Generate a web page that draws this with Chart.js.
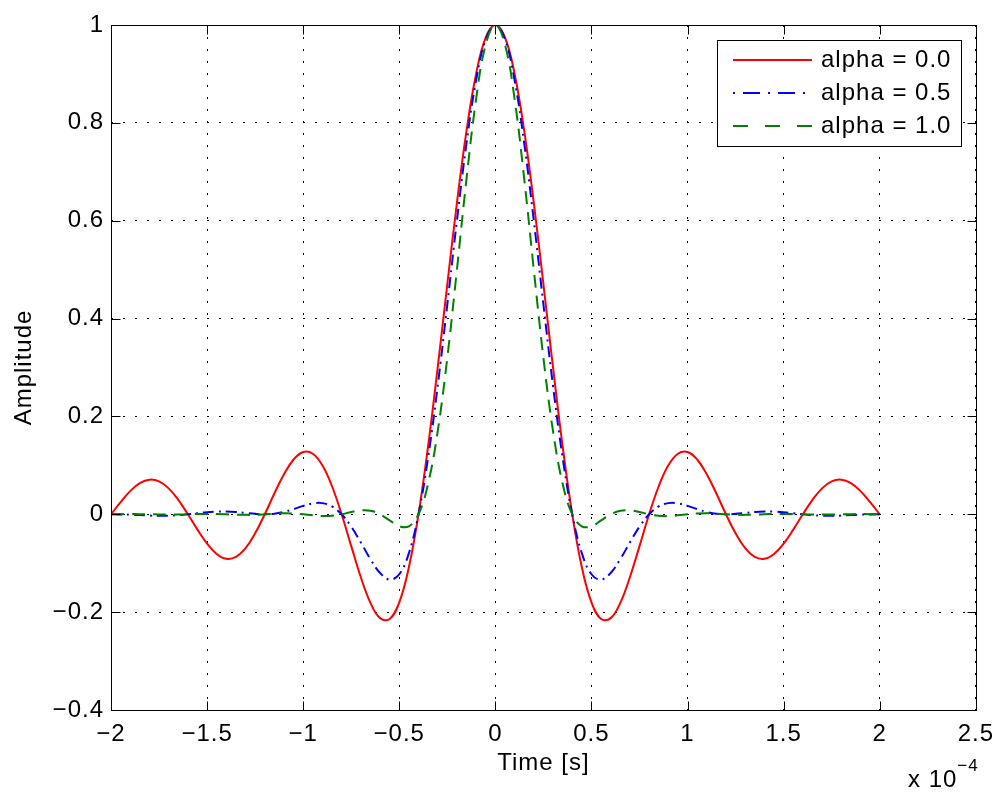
<!DOCTYPE html>
<html>
<head>
<meta charset="utf-8">
<title>Raised cosine pulse</title>
<script src="https://cdn.jsdelivr.net/npm/chart.js@4.4.1/dist/chart.umd.min.js"></script>
<style>
  html, body { margin: 0; padding: 0; background: #fff; }
  #wrap { width: 1004px; height: 794px; }
</style>
</head>
<body>
<div id="wrap"><canvas id="pulseChart" width="1004" height="794"></canvas></div>
<script>
//Время, в единицах 1e-4 s
const time = [
  -2, -1.95, -1.9, -1.85, -1.8, -1.75, -1.7, -1.65, -1.6, -1.55,
  -1.5, -1.45, -1.4, -1.35, -1.3, -1.25, -1.2, -1.15, -1.1, -1.05,
  -1, -0.95, -0.9, -0.85, -0.8, -0.75, -0.7, -0.65, -0.6, -0.55,
  -0.5, -0.45, -0.4, -0.35, -0.3, -0.25, -0.2, -0.15, -0.1, -0.05,
  0,
  0.05, 0.1, 0.15, 0.2, 0.25, 0.3, 0.35, 0.4, 0.45, 0.5,
  0.55, 0.6, 0.65, 0.7, 0.75, 0.8, 0.85, 0.9, 0.95, 1,
  1.05, 1.1, 1.15, 1.2, 1.25, 1.3, 1.35, 1.4, 1.45, 1.5,
  1.55, 1.6, 1.65, 1.7, 1.75, 1.8, 1.85, 1.9, 1.95, 2
];

const alpha00 = [
  0, 0.0250, 0.0474, 0.0636, 0.0707, 0.0672, 0.0530, 0.0295, 0, -0.0314,
  -0.0600, -0.0811, -0.0909, -0.0871, -0.0693, -0.0390, 0, 0.0424, 0.0818, 0.1120,
  0.1273, 0.1238, 0.1000, 0.0573, 0, -0.0650, -0.1286, -0.1810, -0.2122, -0.2139,
  -0.1801, -0.1083, 0, 0.1392, 0.3001, 0.4705, 0.6366, 0.7842, 0.9003, 0.9745,
  1,
  0.9745, 0.9003, 0.7842, 0.6366, 0.4705, 0.3001, 0.1392, 0, -0.1083, -0.1801,
  -0.2139, -0.2122, -0.1810, -0.1286, -0.0650, 0, 0.0573, 0.1000, 0.1238, 0.1273,
  0.1120, 0.0818, 0.0424, 0, -0.0390, -0.0693, -0.0871, -0.0909, -0.0811, -0.0600,
  -0.0314, 0, 0.0295, 0.0530, 0.0672, 0.0707, 0.0636, 0.0474, 0.0250, 0
];

const alpha05 = [
  0, -0.0002, -0.0008, -0.0017, -0.0026, -0.0031, -0.0029, -0.0018, 0, 0.0022,
  0.0043, 0.0056, 0.0057, 0.0047, 0.0028, 0.0009, 0, 0.0011, 0.0048, 0.0106,
  0.0172, 0.0222, 0.0228, 0.0160, 0, -0.0253, -0.0576, -0.0917, -0.1200, -0.1334,
  -0.1225, -0.0795, 0, 0.1159, 0.2625, 0.4290, 0.6002, 0.7588, 0.8872, 0.9709,
  1,
  0.9709, 0.8872, 0.7588, 0.6002, 0.4290, 0.2625, 0.1159, 0, -0.0795, -0.1225,
  -0.1334, -0.1200, -0.0917, -0.0576, -0.0253, 0, 0.0160, 0.0228, 0.0222, 0.0172,
  0.0106, 0.0048, 0.0011, 0, 0.0009, 0.0028, 0.0047, 0.0057, 0.0056, 0.0043,
  0.0022, 0, -0.0018, -0.0029, -0.0031, -0.0026, -0.0017, -0.0008, -0.0002, 0
];

const alpha10 = [
  0, 0.0003, 0.0004, 0.0003, 0, -0.0003, -0.0005, -0.0004, 0, 0.0005,
  0.0008, 0.0006, 0, -0.0008, -0.0012, -0.0010, 0, 0.0012, 0.0020, 0.0016,
  0, -0.0022, -0.0037, -0.0031, 0, 0.0046, 0.0081, 0.0072, 0, -0.0125,
  -0.0243, -0.0246, 0, 0.0624, 0.1698, 0.3201, 0.5000, 0.6860, 0.8488, 0.9603,
  1,
  0.9603, 0.8488, 0.6860, 0.5000, 0.3201, 0.1698, 0.0624, 0, -0.0246, -0.0243,
  -0.0125, 0, 0.0072, 0.0081, 0.0046, 0, -0.0031, -0.0037, -0.0022, 0,
  0.0016, 0.0020, 0.0012, 0, -0.0010, -0.0012, -0.0008, 0, 0.0006, 0.0008,
  0.0005, 0, -0.0004, -0.0005, -0.0003, 0, 0.0003, 0.0004, 0.0003, 0
];

const seriesLabels = ['alpha = 0.0', 'alpha = 0.5', 'alpha = 1.0'];
const xTicks = [-2, -1.5, -1, -0.5, 0, 0.5, 1, 1.5, 2, 2.5];
const yTicks = [-0.4, -0.2, 0, 0.2, 0.4, 0.6, 0.8, 1];
const xExponent = '\u22124';

const FONT_FAMILY = '"Liberation Sans", Arial, Helvetica, sans-serif';
const FONT_SIZE = 24;
const SPACING = '1px';

//Число с настоящим знаком минус
function fmt(v) {
  return String(Math.round(v * 10) / 10).replace('-', '\u2212');
}

function toPoints(values) {
  return time.map((t, i) => ({x: t, y: values[i]}));
}

//Межбуквенный интервал, как у шрифта MATLAB
const spacingPlugin = {
  id: 'spacing',
  beforeUpdate(chart) { chart.ctx.letterSpacing = SPACING; },
  beforeDraw(chart) { chart.ctx.letterSpacing = SPACING; }
};

//Рамка осей, внутренние засечки, легенда и множитель оси X
const framePlugin = {
  id: 'frame',
  afterDraw(chart) {
    const {ctx, chartArea} = chart;
    const x = chart.scales.x;
    const y = chart.scales.y;
    const l = Math.round(chartArea.left) + 0.5;
    const r = Math.round(chartArea.right) + 0.5;
    const t = Math.round(chartArea.top) + 0.5;
    const b = Math.round(chartArea.bottom) + 0.5;
    const tick = 9;

    ctx.save();
    ctx.letterSpacing = SPACING;
    ctx.strokeStyle = '#000';
    ctx.lineWidth = 1;
    ctx.setLineDash([]);
    ctx.beginPath();
    xTicks.forEach(v => {
      const px = Math.round(x.getPixelForValue(v)) + 0.5;
      ctx.moveTo(px, b); ctx.lineTo(px, b - tick);
      ctx.moveTo(px, t); ctx.lineTo(px, t + tick);
    });
    yTicks.forEach(v => {
      const py = Math.round(y.getPixelForValue(v)) + 0.5;
      ctx.moveTo(l, py); ctx.lineTo(l + tick, py);
      ctx.moveTo(r, py); ctx.lineTo(r - tick, py);
    });
    ctx.stroke();
    ctx.strokeRect(l, t, r - l, b - t);

    //Легенда
    const boxL = 717.5, boxT = 40.5, boxW = 244, boxH = 106;
    ctx.fillStyle = '#fff';
    ctx.fillRect(boxL, boxT, boxW, boxH);
    ctx.strokeRect(boxL, boxT, boxW, boxH);
    const rows = [60, 93, 126];
    chart.data.datasets.forEach((ds, i) => {
      ctx.save();
      ctx.strokeStyle = ds.borderColor;
      ctx.lineWidth = ds.borderWidth;
      ctx.setLineDash(ds.legendDash);
      ctx.beginPath();
      ctx.moveTo(733, rows[i]);
      ctx.lineTo(812, rows[i]);
      ctx.stroke();
      ctx.restore();
      ctx.fillStyle = '#000';
      ctx.font = FONT_SIZE + 'px ' + FONT_FAMILY;
      ctx.textBaseline = 'middle';
      ctx.textAlign = 'left';
      ctx.fillText(ds.label, 821, rows[i]);
    });

    //Множитель x 10^-4
    ctx.fillStyle = '#000';
    ctx.textAlign = 'left';
    ctx.textBaseline = 'alphabetic';
    ctx.font = FONT_SIZE + 'px ' + FONT_FAMILY;
    const base = 'x 10';
    ctx.fillText(base, 908, 787);
    const w = ctx.measureText(base).width;
    ctx.font = '17px ' + FONT_FAMILY;
    ctx.fillText(xExponent, 908 + w, 771);
    ctx.restore();
  }
};

const tickFont = {family: FONT_FAMILY, size: FONT_SIZE};

new Chart(document.getElementById('pulseChart'), {
  type: 'line',
  data: {
    datasets: [
      {
        label: seriesLabels[0],
        data: toPoints(alpha00),
        borderColor: '#ff0000',
        borderWidth: 2,
        borderDash: [],
        legendDash: [],
        order: 3
      },
      {
        label: seriesLabels[1],
        data: toPoints(alpha05),
        borderColor: '#0000ff',
        borderWidth: 2,
        borderDash: [11, 5, 2, 5],
        legendDash: [2, 8, 17, 8],
        order: 2
      },
      {
        label: seriesLabels[2],
        data: toPoints(alpha10),
        borderColor: '#008000',
        borderWidth: 2,
        borderDash: [13, 8],
        legendDash: [15, 17],
        order: 1
      }
    ]
  },
  options: {
    responsive: false,
    animation: false,
    devicePixelRatio: 1,
    layout: {
      padding: {top: 25, right: 25, left: 0, bottom: 0}
    },
    elements: {
      point: {radius: 0},
      line: {tension: 0.4, fill: false, borderCapStyle: 'butt', borderJoinStyle: 'round'}
    },
    plugins: {
      legend: {display: false},
      tooltip: {enabled: false}
    },
    scales: {
      x: {
        type: 'linear',
        min: -2,
        max: 2.5,
        afterBuildTicks: s => { s.ticks = xTicks.map(v => ({value: v})); },
        afterFit: s => { s.height = 84; },
        ticks: {
          callback: v => fmt(v),
          font: tickFont,
          color: '#000',
          padding: 10,
          maxRotation: 0,
          autoSkip: false
        },
        grid: {color: '#000', lineWidth: 1, drawTicks: false},
        border: {display: false, dash: [2, 10]},
        title: {
          display: true,
          text: 'Time [s]',
          font: tickFont,
          color: '#000',
          padding: {top: 0, bottom: 16}
        }
      },
      y: {
        type: 'linear',
        min: -0.4,
        max: 1,
        afterBuildTicks: s => { s.ticks = yTicks.map(v => ({value: v})); },
        afterFit: s => { s.width = 111; },
        ticks: {
          callback: v => fmt(v),
          font: tickFont,
          color: '#000',
          padding: 7
        },
        grid: {color: '#000', lineWidth: 1, drawTicks: false},
        border: {display: false, dash: [2, 10]},
        title: {
          display: true,
          text: 'Amplitude',
          font: tickFont,
          color: '#000',
          padding: {top: 10, bottom: 0}
        }
      }
    }
  },
  plugins: [spacingPlugin, framePlugin]
});
</script>
</body>
</html>
